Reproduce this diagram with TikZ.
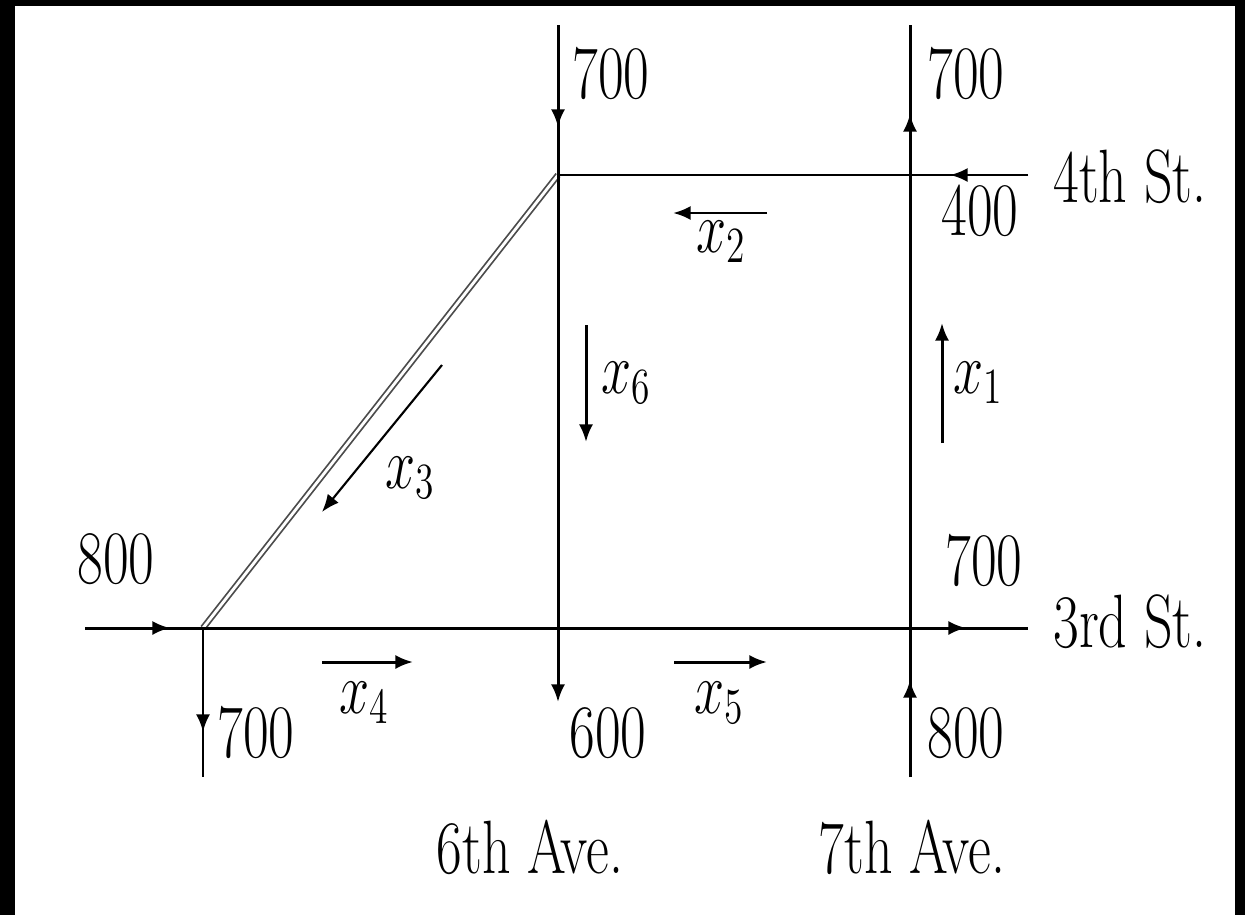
\documentclass[tikz,border=0pt]{standalone}
\usepackage{graphicx}
\usetikzlibrary{arrows.meta}
\newcommand{\sq}[1]{\scalebox{0.74}[1]{#1}}
\begin{document}
\begin{tikzpicture}[x=0.01cm,y=-0.01cm,
  road/.style={line width=0.85pt},
  flow/.style={line width=0.85pt,-{Latex[length=5pt,width=4pt]}},
  lbl/.style={inner sep=0pt,anchor=base,font=\fontsize{21.5}{25}\selectfont},
  diag/.style={double,draw=black!70,line width=0.5pt,double distance=0.8pt}]
\fill[black] (0,0) rectangle (1245,915);
\fill[white] (15,6) rectangle (1235,915);
\useasboundingbox (0,0) rectangle (1245,915);
% junctions and street ends
\coordinate (a6top) at (558,25);
\coordinate (j64) at (558,175);
\coordinate (j63) at (558,628);
\coordinate (a6bot) at (558,702);
\coordinate (a7top) at (910,25);
\coordinate (j74) at (910,175);
\coordinate (j73) at (910,628);
\coordinate (a7bot) at (910,777);
\coordinate (s4end) at (1028,175);
\coordinate (s3end) at (1028,628);
\coordinate (s3start) at (85,628);
\coordinate (jd3) at (203,628);
\coordinate (dbot) at (203,777);
% arrow tips on the streets
\coordinate (t6top) at (558,127);
\coordinate (t7top) at (910,114);
\coordinate (t4) at (950,175);
\coordinate (t3left) at (170,628);
\coordinate (t3right) at (966,628);
\coordinate (t7bot) at (910,680);
\coordinate (tdbot) at (203,732);
% diagonal street
\draw[diag] (jd3) -- (j64);
% streets (full lines)
\draw[road] (a6top) -- (j64) -- (j63);
\draw[flow] (j63) -- (a6bot);
\draw[road] (a7bot) -- (j73) -- (j74) -- (a7top);
\draw[road] (s4end) -- (j74) -- (j64);
\draw[road] (s3start) -- (jd3) -- (j63) -- (j73) -- (s3end);
\draw[road] (jd3) -- (dbot);
% direction arrows on the streets
\draw[flow] (a6top) -- (t6top);
\draw[flow] (a7bot) -- (t7bot);
\draw[flow] (j74) -- (t7top);
\draw[flow] (s4end) -- (t4);
\draw[flow] (s3start) -- (t3left);
\draw[flow] (j73) -- (t3right);
\draw[flow] (jd3) -- (tdbot);
% unknown flows
\coordinate (x2s) at (767,213); \coordinate (x2e) at (673,213);
\coordinate (x6s) at (586,325); \coordinate (x6e) at (586,442);
\coordinate (x1s) at (942,443); \coordinate (x1e) at (942,323);
\coordinate (x3s) at (442,365); \coordinate (x3e) at (322,512);
\coordinate (x4s) at (322,662); \coordinate (x4e) at (413,662);
\coordinate (x5s) at (674,662); \coordinate (x5e) at (767,662);
\draw[flow] (x2s) -- (x2e);
\draw[flow] (x6s) -- (x6e);
\draw[flow] (x1s) -- (x1e);
\draw[flow,line width=0.6pt] (x3s) -- (x3e);
\draw[flow] (x4s) -- (x4e);
\draw[flow] (x5s) -- (x5e);
% labels
\node[lbl] (n6in) at (611,98) {\sq{700}};
\node[lbl] (n7out) at (966,98) {\sq{700}};
\node[lbl] (st4) at (1130,202) {\sq{4th St.}};
\node[lbl] (n4in) at (980,235) {\sq{400}};
\node[lbl] (lx2) at (721,252) {\sq{$x_2$}};
\node[lbl] (lx6) at (626,393) {\sq{$x_6$}};
\node[lbl] (lx1) at (978,393) {\sq{$x_1$}};
\node[lbl] (lx3) at (410,488) {\sq{$x_3$}};
\node[lbl] (n3in) at (116,583) {\sq{800}};
\node[lbl] (n3out) at (984,585) {\sq{700}};
\node[lbl] (st3) at (1130,647) {\sq{3rd St.}};
\node[lbl] (lx4) at (364,713) {\sq{$x_4$}};
\node[lbl] (lx5) at (719,713) {\sq{$x_5$}};
\node[lbl] (ndout) at (256,757) {\sq{700}};
\node[lbl] (n6out) at (608,757) {\sq{600}};
\node[lbl] (n7in) at (966,757) {\sq{800}};
\node[lbl] (av6) at (530,873) {\sq{6th Ave.}};
\node[lbl] (av7) at (912,873) {\sq{7th Ave.}};
\end{tikzpicture}
\end{document}
